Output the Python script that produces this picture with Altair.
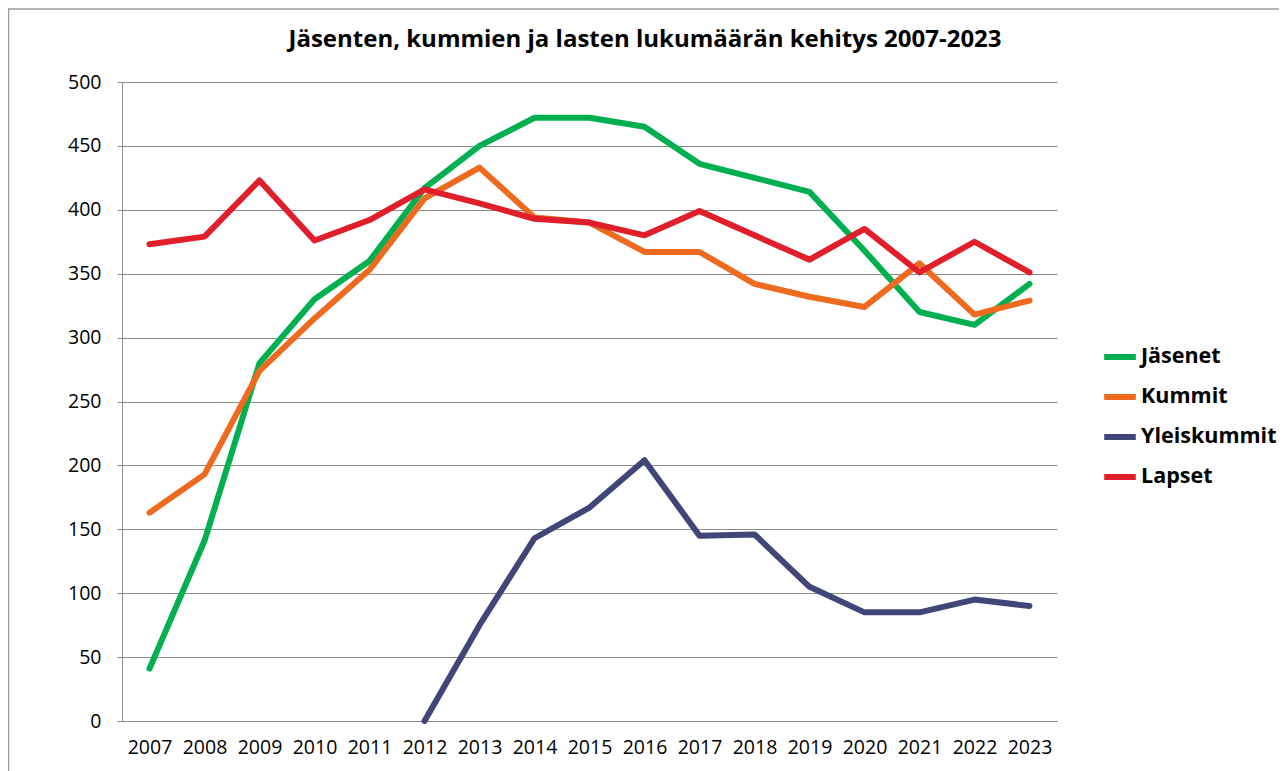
import altair as alt
import pandas as pd

years = list(range(2007, 2024))
jasenet = [41, 141, 280, 330, 360, 417, 450, 472, 472, 465, 436, 425, 414, 368, 320, 310, 342]
kummit = [163, 193, 274, 315, 353, 409, 433, 394, 390, 367, 367, 342, 332, 324, 358, 318, 329]
yleiskummit = [None, None, None, None, None, 0, 75, 143, 167, 204, 145, 146, 105, 85, 85, 95, 90]
lapset = [373, 379, 423, 376, 392, 416, 405, 393, 390, 380, 399, 380, 361, 385, 351, 375, 351]

series_names = ["Jäsenet", "Kummit", "Yleiskummit", "Lapset"]
series_colors = ["#00B050", "#EE6A1E", "#414679", "#E01F2B"]
title_text = "Jäsenten, kummien ja lasten lukumäärän kehitys 2007-2023"

rows = []
for name, vals in zip(series_names, [jasenet, kummit, yleiskummit, lapset]):
    for i, (y, v) in enumerate(zip(years, vals)):
        if v is not None:
            rows.append({"Vuosi": str(y), "Arvo": v, "Sarja": name, "ord": series_names.index(name)})
df = pd.DataFrame(rows)

FONT = "Open Sans"

border = alt.Chart(pd.DataFrame({"a": [1]})).mark_rect(
    fill=None, stroke="#9a9a9a", strokeWidth=1.5
).encode(
    x=alt.value(-113.5), x2=alt.value(1200), y=alt.value(-73), y2=alt.value(700)
)

title = alt.Chart(pd.DataFrame({"t": [title_text]})).mark_text(
    font=FONT, fontSize=24, fontWeight="bold", color="#000000",
    align="center", baseline="middle"
).encode(text="t:N", x=alt.value(523), y=alt.value(-42))

lines = alt.Chart(df).mark_line(strokeWidth=6, strokeCap="round", strokeJoin="round").encode(
    x=alt.X("Vuosi:O", scale=alt.Scale(type="point", padding=0.5),
            axis=alt.Axis(title=None, labelAngle=0, ticks=False, domain=True,
                          domainColor="#8c8c8c", labelPadding=17, labelFontSize=19.5,
                          labelFont=FONT, labelColor="#000000", grid=False)),
    y=alt.Y("Arvo:Q", scale=alt.Scale(domain=[0, 500], nice=False),
            axis=alt.Axis(title=None, values=list(range(0, 501, 50)), tickSize=5,
                          tickColor="#8c8c8c", domainColor="#8c8c8c", gridColor="#8c8c8c",
                          gridWidth=1, labelPadding=16, labelFontSize=19.5, labelFont=FONT,
                          labelColor="#000000", domain=True)),
    color=alt.Color("Sarja:N", scale=alt.Scale(domain=series_names, range=series_colors),
                    legend=alt.Legend(title=None, orient="none", legendX=979, legendY=256,
                                      symbolType="stroke", symbolStrokeWidth=6,
                                      symbolSize=1000, rowPadding=9, labelFontSize=21.5,
                                      labelFont=FONT, labelFontWeight="bold",
                                      labelColor="#000000", labelOffset=2,
                                      symbolOpacity=1, labelLimit=300)),
    order=alt.Order("ord:Q"),
    detail="Sarja:N",
)

chart = alt.layer(border, title, lines).properties(
    width=935, height=639,
    autosize=alt.AutoSizeParams(type="none"),
    padding={"left": 114, "top": 74, "right": 222, "bottom": 50},
).configure_view(stroke=None).configure_axisX(grid=False)

chart.save("out.html", embed_options={"renderer": "svg", "actions": False})
